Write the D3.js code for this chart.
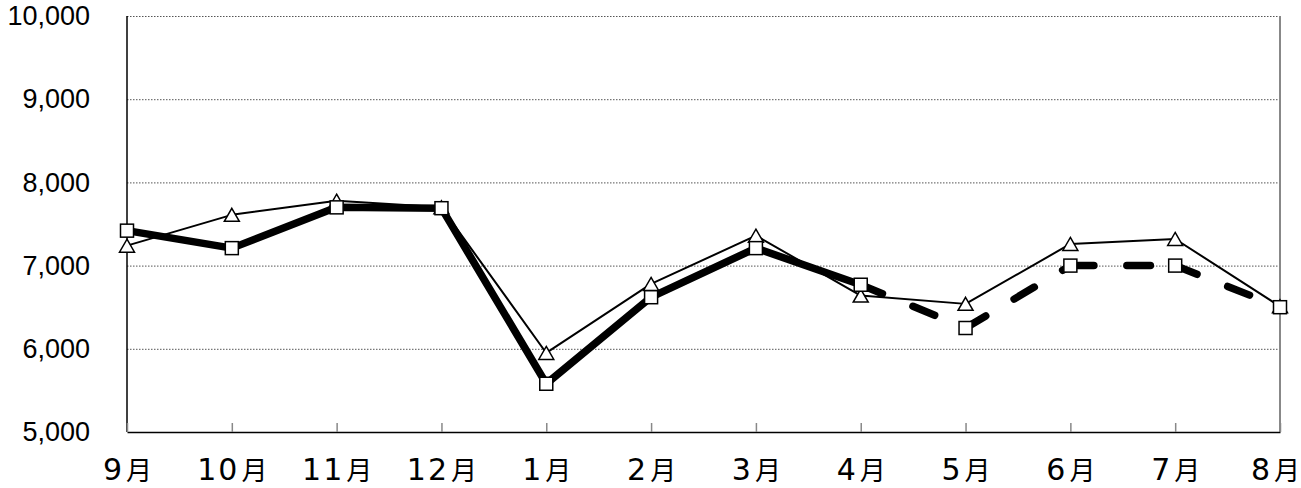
<!DOCTYPE html>
<html lang="ja">
<head>
<meta charset="utf-8">
<script src="https://cdn.jsdelivr.net/npm/d3@7"></script>
<style>
  html, body { margin: 0; padding: 0; background: #fff; }
  svg { display: block; }
</style>
</head>
<body>
<svg id="chart" width="1301" height="488"></svg>
<script>
// Monthly figures, September through August
const months = ["9月", "10月", "11月", "12月", "1月", "2月", "3月", "4月", "5月", "6月", "7月", "8月"];
// Heavy series (square markers); dashed from 4月 onward
const squareValues = [7420, 7210, 7700, 7690, 5580, 6620, 7210, 6770, 6250, 7000, 7000, 6500];
// Light series (triangle markers)
const triangleValues = [7240, 7610, 7780, 7700, 5950, 6780, 7360, 6640, 6540, 7260, 7320, 6510];
const yTicks = [5000, 6000, 7000, 8000, 9000, 10000];
const dashStartMonth = "4月";

const svg = d3.select("#chart");
const plot = { left: 127, right: 1280, top: 16, bottom: 432 };

const x = d3.scalePoint().domain(months).range([plot.left, plot.right]).padding(0);
const y = d3.scaleLinear().domain([5000, 10000]).range([plot.bottom, plot.top]);

// Horizontal dotted gridlines
const grid = svg.append("g")
  .attr("transform", `translate(${plot.left},0)`)
  .call(d3.axisLeft(y).tickValues(yTicks.filter(v => v > 5000))
    .tickSize(-(plot.right - plot.left)).tickFormat(""));
grid.select(".domain").remove();
grid.selectAll(".tick line")
  .attr("stroke", "#555")
  .attr("stroke-width", 1)
  .attr("stroke-dasharray", "1.5,1.5");

// Right frame edge
svg.append("line")
  .attr("x1", plot.right).attr("x2", plot.right)
  .attr("y1", plot.top).attr("y2", plot.bottom)
  .attr("stroke", "#888").attr("stroke-width", 2);

// Y axis labels
const yAxis = svg.append("g")
  .attr("transform", `translate(${plot.left},0)`)
  .call(d3.axisLeft(y).tickValues(yTicks).tickSize(0).tickPadding(37)
    .tickFormat(d3.format(",")));
yAxis.select(".domain").remove();
yAxis.selectAll("text")
  .attr("fill", "#000")
  .style("font-family", "'Liberation Sans', Arial, sans-serif")
  .style("font-size", "27px");

// Left axis line
svg.append("line")
  .attr("x1", plot.left).attr("x2", plot.left)
  .attr("y1", plot.top).attr("y2", plot.bottom)
  .attr("stroke", "#000").attr("stroke-width", 1.5);

// X axis with small upward ticks
const xAxis = svg.append("g")
  .attr("transform", `translate(0,${plot.bottom})`)
  .call(d3.axisBottom(x).tickSizeInner(-9).tickSizeOuter(0));
xAxis.select(".domain").attr("stroke", "#000").attr("stroke-width", 1.5);
xAxis.selectAll(".tick line").attr("stroke", "#888").attr("stroke-width", 1.5);

// Month labels: wide numerals followed by the 月 glyph
const lastMonth = months[months.length - 1];
xAxis.selectAll(".tick text")
  .attr("y", 48)
  .attr("x", d => d === lastMonth ? -5 : 0)
  .attr("dy", null)
  .attr("fill", "#000")
  .each(function (d) {
    const t = d3.select(this).text("");
    const num = d.replace("月", "");
    t.append("tspan")
      .style("font-family", "'DejaVu Sans', sans-serif")
      .style("font-size", "30px")
      .style("letter-spacing", "2px")
      .text(num);
    t.append("tspan")
      .attr("dx", 2)
      .style("font-family", "'Noto Sans CJK JP', sans-serif")
      .style("font-size", "26px")
      .text("月");
  });

const line = d3.line().x((d, i) => x(months[i])).y(d => y(d));

// Light series: line then triangles
svg.append("path")
  .datum(triangleValues)
  .attr("d", line)
  .attr("fill", "none")
  .attr("stroke", "#000")
  .attr("stroke-width", 2)
  .attr("stroke-linejoin", "round");

const tri = "M0,-6.5L7.5,6.5L-7.5,6.5Z";
svg.append("g").selectAll("path")
  .data(triangleValues)
  .join("path")
  .attr("d", tri)
  .attr("transform", (d, i) => `translate(${x(months[i])},${y(d)})`)
  .attr("fill", "#fff")
  .attr("stroke", "#000")
  .attr("stroke-width", 1.5);

// Heavy series: solid part, then dashed segments restarting at each month
const split = months.indexOf(dashStartMonth);
svg.append("path")
  .datum(squareValues.slice(0, split + 1))
  .attr("d", line)
  .attr("fill", "none")
  .attr("stroke", "#000")
  .attr("stroke-width", 7.5)
  .attr("stroke-linejoin", "round");

const dashedPairs = d3.range(split, months.length - 1);
svg.append("g").selectAll("line")
  .data(dashedPairs)
  .join("line")
  .attr("x1", i => x(months[i]))
  .attr("y1", i => y(squareValues[i]))
  .attr("x2", i => x(months[i + 1]))
  .attr("y2", i => y(squareValues[i + 1]))
  .attr("stroke", "#000")
  .attr("stroke-width", 7.5)
  .attr("stroke-linecap", "round")
  .attr("stroke-dasharray", "23.5,33");

svg.append("g").selectAll("rect")
  .data(squareValues)
  .join("rect")
  .attr("x", (d, i) => x(months[i]) - 6.5)
  .attr("y", d => y(d) - 6.5)
  .attr("width", 13)
  .attr("height", 13)
  .attr("fill", "#fff")
  .attr("stroke", "#000")
  .attr("stroke-width", 1.5);
</script>
</body>
</html>
